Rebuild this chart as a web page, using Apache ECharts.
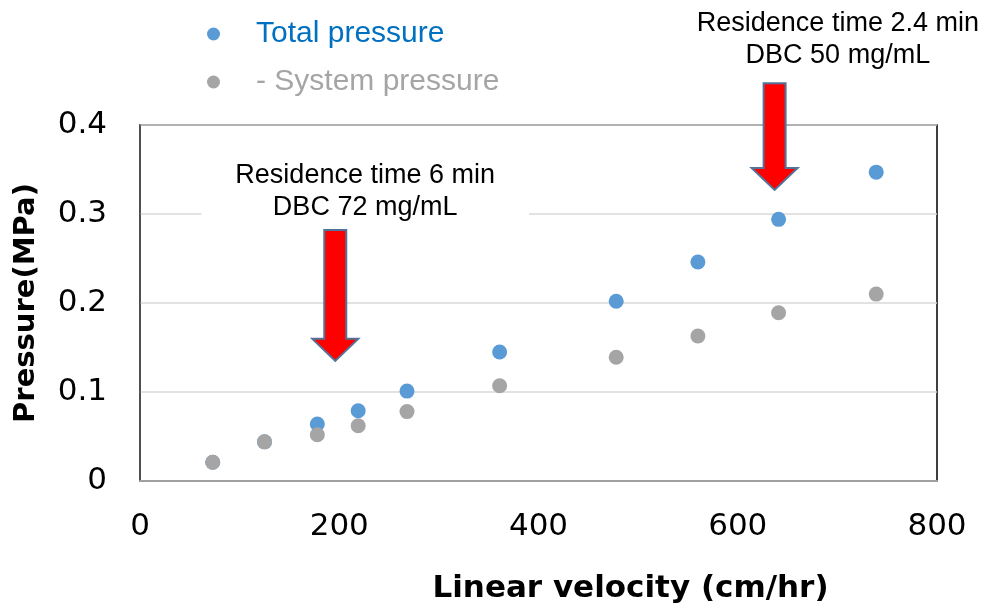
<!DOCTYPE html>
<html><head><meta charset="utf-8">
<script src="https://cdn.jsdelivr.net/npm/echarts@6/dist/echarts.min.js"></script>
<style>html,body{margin:0;padding:0;background:#fff}#c{width:986px;height:607px}</style>
</head><body><div id="c"></div>
<script>
const velocity = [73, 125, 178, 219, 268, 361, 478, 560, 641, 739];
const totalPressure = [0.021, 0.044, 0.064, 0.079, 0.101, 0.145, 0.202, 0.246, 0.294, 0.347];
const systemPressure = [0.021, 0.044, 0.052, 0.062, 0.078, 0.107, 0.139, 0.163, 0.189, 0.210];
const seriesNames = ['Total pressure', '- System pressure'];
const annotations = [
  {text: 'Residence time 6 min\nDBC 72 mg/mL', x: 196, top: 0.282, tip: 0.135, labelX: 226, labelY: 0.325},
  {text: 'Residence time 2.4 min\nDBC 50 mg/mL', x: 637, top: 0.447, tip: 0.327, labelX: 700.5, labelY: 0.4955}
];

const chart = echarts.init(document.getElementById('c'));
const toPairs = (xs, ys) => xs.map((x, i) => [x, ys[i]]);
chart.setOption({
  animation: false,
  grid: {left: 140, right: 49, top: 125, bottom: 126, show: true, borderColor: '#000', borderWidth: 1.5,
    outerBoundsMode: 'none', containLabel: false},
  legend: {
    orient: 'vertical', left: 202, top: 14, itemGap: 18, itemWidth: 13, itemHeight: 13,
    icon: 'circle',
    data: [
      {name: seriesNames[0], textStyle: {color: '#0070C0'}},
      {name: seriesNames[1], textStyle: {color: '#A5A5A5'}}
    ],
    textStyle: {fontFamily: 'Liberation Sans', fontSize: 30, padding: [0, 0, 0, 31]}
  },
  xAxis: {
    type: 'value', min: 0, max: 800, interval: 200,
    name: 'Linear velocity (cm/hr)', nameLocation: 'middle', nameGap: 92,
    nameTextStyle: {fontFamily: 'DejaVu Sans', fontWeight: 'bold', fontSize: 31, color: '#000',
      padding: [0, 0, 0, 184]},
    axisLine: {show: true, lineStyle: {color: '#a0a0a0', width: 2}},
    axisTick: {show: false},
    splitLine: {show: false},
    axisLabel: {fontFamily: 'DejaVu Sans', fontSize: 31, color: '#000', margin: 30}
  },
  yAxis: {
    type: 'value', min: 0, max: 0.4, interval: 0.1,
    name: 'Pressure(MPa)', nameLocation: 'middle', nameGap: 99, nameRotate: 90,
    nameTextStyle: {fontFamily: 'DejaVu Sans', fontWeight: 'bold', fontSize: 29, color: '#000'},
    axisLine: {show: true, lineStyle: {color: '#555', width: 1.5}},
    axisTick: {show: false},
    splitLine: {show: true, lineStyle: {color: '#d9d9d9', width: 1.5}},
    axisLabel: {fontFamily: 'DejaVu Sans', fontSize: 31, color: '#000', margin: 33,
      formatter: v => v === 0 ? '0' : v.toFixed(1)}
  },
  series: [
    {name: seriesNames[0], type: 'scatter', data: toPairs(velocity, totalPressure), symbolSize: 15,
      itemStyle: {color: '#5B9BD5', opacity: 1}, z: 3},
    {name: seriesNames[1], type: 'scatter', data: toPairs(velocity, systemPressure), symbolSize: 15,
      itemStyle: {color: '#A5A5A5', opacity: 1}, z: 4}
  ]
});

function drawAnnotations() {
  const els = [];
  annotations.forEach(a => {
    const [cx, yTop] = chart.convertToPixel({gridIndex: 0}, [a.x, a.top]);
    const [, yTip] = chart.convertToPixel({gridIndex: 0}, [a.x, a.tip]);
    const [lx, ly] = chart.convertToPixel({gridIndex: 0}, [a.labelX, a.labelY]);
    const sw = 11, hw = 23, hh = 22;
    const hb = yTip - hh;
    els.push({
      type: 'polygon', z: 10,
      shape: {points: [[cx - sw, yTop], [cx + sw, yTop], [cx + sw, hb], [cx + hw, hb], [cx, yTip], [cx - hw, hb], [cx - sw, hb]]},
      style: {fill: '#FF0000', stroke: '#52739A', lineWidth: 2}
    });
    els.push({
      type: 'text', z: 9, x: lx, y: ly,
      style: {text: a.text, fontFamily: 'Liberation Sans', fontSize: 27, lineHeight: 32, fill: '#000',
        align: 'center', verticalAlign: 'middle', backgroundColor: '#fff', padding: [4, 34, 10, 34]}
    });
  });
  chart.setOption({graphic: els});
}
drawAnnotations();
</script></body></html>
